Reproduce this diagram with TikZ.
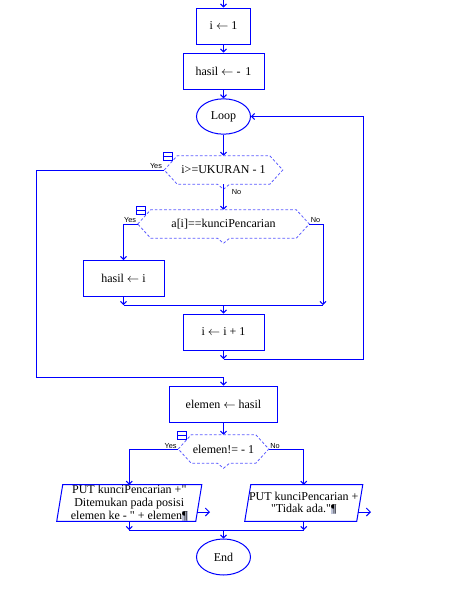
\documentclass[tikz,border=0pt]{standalone}
\usepackage{fontspec}
\newfontfamily\flowfont{Liberation Serif}
\newfontfamily\lblfont{Liberation Sans}
\usepackage{xcolor}
\usetikzlibrary{arrows.meta}
\usetikzlibrary{shapes.geometric}

\definecolor{flow}{RGB}{0,0,255}
\definecolor{flowdash}{RGB}{90,90,255}
\definecolor{pilcrow}{RGB}{190,195,215}

\tikzset{
  proc/.style={draw=flow, line width=.75pt, minimum height=27pt, inner sep=1pt,
    font=\flowfont\fontsize{9}{11}\selectfont},
  term/.style={draw=flow, line width=.75pt, ellipse, minimum width=40.5pt,
    minimum height=26.5pt, inner sep=0pt, font=\flowfont\fontsize{9}{11}\selectfont},
  cond/.style={minimum height=21pt, inner sep=0pt, font=\flowfont\fontsize{9}{11}\selectfont},
  dec/.style={draw=flowdash, dash pattern=on 2pt off 1.5pt, line width=.6pt},
  io/.style={minimum height=27pt, inner sep=0pt, align=center,
    font=\flowfont\fontsize{9}{9.6}\selectfont},
  flowline/.style={draw=flow, line width=.75pt},
  outline/.style={draw=flow, line width=.75pt, -{Straight Barb[length=3pt,width=6pt]}},
  yn/.style={font=\lblfont\fontsize{5.5}{6}\selectfont, inner sep=0.5pt},
  >={Straight Barb[length=2.2pt,width=4.5pt]}
}

% hexagon of a decision, with its fold icon
\newcommand{\hexa}[1]{%
  \draw[dec] (#1.west) -- ([xshift=9.75pt]#1.north west)
    -- ([xshift=-9.75pt]#1.north east) -- (#1.east)
    -- ([xshift=-9.75pt]#1.south east) -- ([xshift=4.5pt]#1.south)
    -- ++(-6,5) -- ++(-6,-5) -- ([xshift=9.75pt]#1.south west) -- cycle;
  \draw[flow, line width=.6pt] ([shift={(-1,-3)}]#1.north west)
    rectangle ([shift={(8,5)}]#1.north west);
  \draw[flow, line width=.6pt] ([shift={(-1,1)}]#1.north west)
    -- ([shift={(8,1)}]#1.north west);
}
% parallelogram round an io node
\newcommand{\para}[1]{%
  \draw[flow, line width=.75pt] ([xshift=-2.25pt]#1.south west)
    -- ([xshift=2.25pt]#1.north west) -- ([xshift=2.25pt]#1.north east)
    -- ([xshift=-2.25pt]#1.south east) -- cycle;
}
\newcommand{\pil}{{\fboxsep=0pt\colorbox{pilcrow}{¶}}}
\newcommand{\larr}{$\leftarrow$}

\begin{document}
\begin{tikzpicture}[x=0.75pt, y=-0.75pt]
  \useasboundingbox (0,0) rectangle (457,589);

  \coordinate (start) at (223.5,0);
  \node[proc, minimum width=40.5pt] (ione) at (223.5,26) {i \larr{} 1};
  \node[proc, minimum width=60.75pt] (hasil) at (223.5,71) {hasil \larr{} - \,1};
  \node[term] (loop) at (223.5,116.5) {Loop};
  \node[cond, minimum width=88.5pt] (cukuran) at (223.5,170) {i>=UKURAN - 1};
  \hexa{cukuran}
  \node[cond, minimum width=128.25pt] (ckunci) at (223.5,224) {a[i]==kunciPencarian};
  \hexa{ckunci}
  \node[proc, minimum width=60.75pt] (hasili) at (123.5,278.5) {hasil \larr{} i};
  \node[proc, minimum width=60.75pt] (inext) at (223.5,332) {i \larr{} i + 1};
  \node[proc, minimum width=81pt] (elemen) at (223.5,404) {elemen \larr{} hasil};
  \node[cond, minimum width=67.5pt] (celemen) at (223.5,449) {elemen!= - 1};
  \hexa{celemen}
  \node[io, minimum width=103.9pt] (putada) at (129.25,503)
    {PUT kunciPencarian +"\\Ditemukan pada posisi\\elemen ke - " + elemen\pil};
  \para{putada}
  \node[io, minimum width=83.6pt] (puttidak) at (303.75,503)
    {PUT kunciPencarian +\\"Tidak ada."\pil};
  \para{puttidak}
  \node[term, minimum height=27pt] (end) at (223.5,557) {End};

  % junctions
  \coordinate (jkunci) at (223.5,305);
  \coordinate (jkanan) at (323,305);
  \coordinate (jloop) at (223.5,359);
  \coordinate (kloop) at (363,359);
  \coordinate (kiri) at (36,377);
  \coordinate (jelemen) at (223.5,377);
  \coordinate (jend) at (223.5,530);
  \coordinate (oada) at (210,512);
  \coordinate (otidak) at (371,512);

  \draw[flowline,->] (start) -- (ione);
  \draw[flowline,->] (ione) -- (hasil);
  \draw[flowline,->] (hasil) -- (loop);
  \draw[flowline,->] (loop) -- (cukuran);
  \draw[flowline,->] (cukuran.west) -| (kiri) -- (jelemen) -- (elemen);
  \node[yn, anchor=south east] (yukuran) at ([xshift=-1pt]cukuran.west) {Yes};
  \draw[flowline,->] (cukuran.south) -- (ckunci.north);
  \node[yn, anchor=north west] (nukuran) at (231,189) {No};

  \draw[flowline,->] (ckunci.west) -| (hasili.north);
  \node[yn, anchor=south east] (ykunci) at ([xshift=-.5pt]ckunci.west) {Yes};
  \draw[flowline,->] (ckunci.east) -| (jkanan);
  \node[yn, anchor=south west] (nkunci) at ([xshift=.5pt]ckunci.east) {No};
  \draw[flowline,->] (hasili.south) -- (hasili.south |- jkunci);
  \draw[flowline] (hasili.south |- jkunci) -- (jkanan);
  \draw[flowline,->] (jkunci) -- (inext);
  \draw[flowline,->] (inext) -- (jloop);
  \draw[flowline,->] (jloop) -- (kloop) |- (loop.east);

  \draw[flowline,->] (elemen) -- (celemen.north);
  \draw[flowline,->] (celemen.west) -| (putada.north);
  \node[yn, anchor=south east] (yelemen) at ([xshift=-.5pt]celemen.west) {Yes};
  \draw[flowline,->] (celemen.east) -| (puttidak.north);
  \node[yn, anchor=south west] (nelemen) at ([xshift=.5pt]celemen.east) {No};
  \draw[outline] (putada.east |- oada) ++(-1.5,0) -- (oada);
  \draw[outline] (puttidak.east |- otidak) ++(-1.5,0) -- (otidak);
  \draw[flowline,->] (putada.south) -- (putada.south |- jend);
  \draw[flowline,->] (puttidak.south) -- (puttidak.south |- jend);
  \draw[flowline] (putada.south |- jend) -- (puttidak.south |- jend);
  \draw[flowline,->] (jend) -- (end);
\end{tikzpicture}
\end{document}
